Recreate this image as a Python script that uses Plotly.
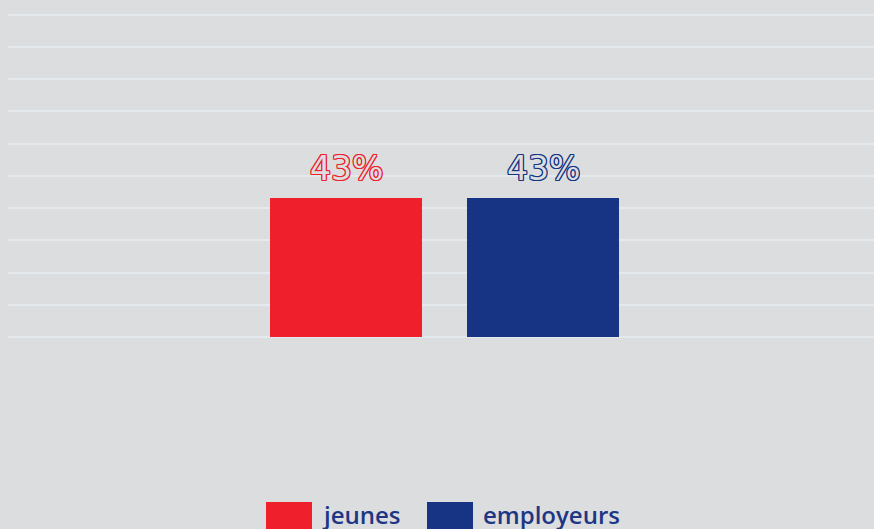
import plotly.graph_objects as go

# Share of respondents, by group
groups = ["jeunes", "employeurs"]
values = [43, 43]
colors = ["#f01f2c", "#163483"]

BG = "#dcdddf"
W, H = 874, 529
M_L, M_R, M_T, M_B = 8, 0, 13, 192
plot_w = W - M_L - M_R
plot_h = H - M_T - M_B
Y_MAX = 100.5


def px_to_paper_x(px):
    return (px - M_L) / plot_w


def px_to_paper_y(py):
    return (H - M_B - py) / plot_h


fig = go.Figure()

for i, (g, v, c) in enumerate(zip(groups, values, colors)):
    fig.add_trace(go.Bar(
        x=[i], y=[v], name=g,
        marker=dict(color=c, line=dict(width=0)),
        width=0.772,
        showlegend=False,
    ))
    # outlined value label above the bar
    outline = ",".join(
        f"{dx}px {dy}px 0 {c}"
        for dx, dy in [(1, 0), (-1, 0), (0, 1), (0, -1), (1, 1), (-1, -1), (1, -1), (-1, 1)]
    )
    fig.add_annotation(x=i, y=v, xref="x", yref="y", yanchor="bottom", yshift=8,
                       showarrow=False, text=f"{v}%",
                       font=dict(family="DejaVu Sans", size=33, color=BG, shadow=outline))

# Custom legend with wide swatches
legend_x = [266, 427]
for g, c, lx in zip(groups, colors, legend_x):
    fig.add_shape(type="rect", xref="paper", yref="paper",
                  x0=px_to_paper_x(lx), x1=px_to_paper_x(lx + 46),
                  y0=px_to_paper_y(502), y1=px_to_paper_y(535),
                  fillcolor=c, line=dict(width=0), layer="above")
    fig.add_annotation(xref="paper", yref="paper",
                       x=px_to_paper_x(lx + 54), y=px_to_paper_y(514),
                       xanchor="left", yanchor="middle", showarrow=False,
                       text=g, font=dict(family="Open Sans", size=24, color="#1d3784", weight=600))

fig.update_layout(
    width=W, height=H,
    margin=dict(l=M_L, r=M_R, t=M_T, b=M_B, pad=0),
    paper_bgcolor=BG, plot_bgcolor=BG,
    bargap=0,
    xaxis=dict(range=[-1.716, 2.680], showgrid=False, zeroline=False,
               showticklabels=False, showline=False, fixedrange=True),
    yaxis=dict(range=[0, Y_MAX], dtick=10, showgrid=True, gridcolor="#e4e9ee",
               gridwidth=2, zeroline=True, zerolinecolor="#e4e9ee", zerolinewidth=2,
               showticklabels=False, showline=False, fixedrange=True),
    showlegend=False,
)

fig.write_html("out.html")
